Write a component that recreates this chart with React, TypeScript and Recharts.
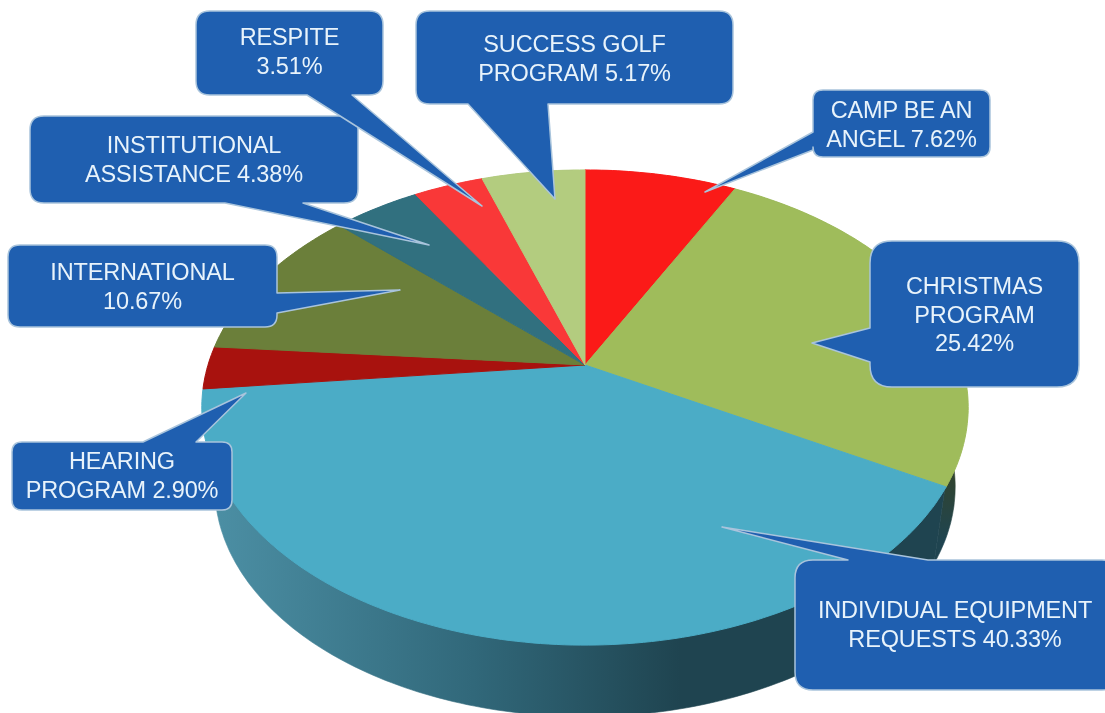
import React from "react";
import { Pie, PieChart } from "recharts";

const categories = [
  "Camp Be An Angel",
  "Christmas Program",
  "Individual Equipment Requests",
  "Hearing Program",
  "International",
  "Institutional Assistance",
  "Respite",
  "Success Golf Program",
];
const shares = [7.62, 25.42, 40.33, 2.9, 10.67, 4.38, 3.51, 5.17];
const topColors = ["#fb1a18", "#9fbc5b", "#4bacc6", "#a8120e", "#6b7f3a", "#31707f", "#f93838", "#b3cc7f"];
const wallColors = ["#8c0f0d", "url(#wallGreen)", "url(#wallBlue)", "#5e0b08", "#3c4820", "#1c3f48", "#8c2020", "#65733f"];
const labelLines = [
  ["CAMP BE AN", "ANGEL 7.62%"],
  ["CHRISTMAS", "PROGRAM", "25.42%"],
  ["INDIVIDUAL EQUIPMENT", "REQUESTS 40.33%"],
  ["HEARING", "PROGRAM 2.90%"],
  ["INTERNATIONAL", "10.67%"],
  ["INSTITUTIONAL", "ASSISTANCE 4.38%"],
  ["RESPITE", "3.51%"],
  ["SUCCESS GOLF", "PROGRAM 5.17%"],
];

const tableData = categories.map((name, i) => ({ name, value: shares[i], fill: topColors[i] }));
const wallData = categories.map((name, i) => ({ name, value: shares[i], fill: wallColors[i] }));

// the perspective of the disc: a circle seen through a homography
const SQUASH = 0.61;
const TILT = 0.179;
const RIM_DROP = 81;
const RIM_SCALE = 0.966;

function project(cx: number, cy: number, r: number, deg: number) {
  const rad = (deg * Math.PI) / 180;
  const ux = Math.cos(rad);
  const uy = -Math.sin(rad);
  const w = 1 - TILT * uy;
  return [cx + (r * ux) / w, cy + (r * SQUASH * uy) / w];
}

function arcPoints(cx: number, cy: number, r: number, from: number, to: number) {
  const n = Math.max(2, Math.ceil(Math.abs(to - from)));
  const pts = [];
  for (let i = 0; i <= n; i++) pts.push(project(cx, cy, r, from + ((to - from) * i) / n));
  return pts;
}

const toPath = (pts: number[][]) =>
  "M" + pts.map((p) => `${p[0].toFixed(1)} ${p[1].toFixed(1)}`).join("L") + "Z";

function TopSlice(props: any) {
  const { cx, cy, outerRadius, startAngle, endAngle, fill } = props;
  const pts = [[cx, cy], ...arcPoints(cx, cy, outerRadius, startAngle, endAngle)];
  return <path d={toPath(pts)} fill={fill} stroke={fill} strokeWidth={1} />;
}

function WallSlice(props: any) {
  const { cx, cy, outerRadius, startAngle, endAngle, fill } = props;
  const upper = arcPoints(cx, cy, outerRadius - 1, startAngle, endAngle);
  const lower = arcPoints(cx, cy + RIM_DROP, outerRadius * RIM_SCALE, endAngle, startAngle);
  return <path d={toPath([...upper, ...lower])} fill={fill} stroke={fill} strokeWidth={0.6} />;
}

// layout of the callouts, same order as the categories
const calloutBoxes = [
  { x: 813, y: 90, w: 177, h: 67, r: 10, side: "left", a: 132, b: 150, tip: [705, 192], text: 110 },
  { x: 870, y: 241, w: 209, h: 146, r: 22, side: "left", a: 328, b: 362, tip: [812, 343], text: 286 },
  { x: 795, y: 560, w: 325, h: 130, r: 18, side: "top", a: 848, b: 928, tip: [722, 527], text: 610 },
  { x: 12, y: 442, w: 220, h: 68, r: 10, side: "top", a: 143, b: 196, tip: [246, 393], text: 461 },
  { x: 8, y: 245, w: 269, h: 82, r: 12, side: "right", a: 293, b: 313, tip: [400, 290], text: 272 },
  { x: 30, y: 116, w: 328, h: 87, r: 14, side: "bottom", a: 225, b: 303, tip: [429, 245], text: 145 },
  { x: 196, y: 11, w: 187, h: 84, r: 14, side: "bottom", a: 307, b: 352, tip: [482, 206], text: 37 },
  { x: 416, y: 11, w: 317, h: 93, r: 14, side: "bottom", a: 468, b: 548, tip: [555, 199], text: 44 },
];

function calloutPath(c: any) {
  const { x, y, w, h, r, side, a, b, tip } = c;
  const R = x + w;
  const B = y + h;
  const t = `${tip[0]} ${tip[1]}`;
  const top = side === "top" ? `L${a} ${y}L${t}L${b} ${y}` : "";
  const right = side === "right" ? `L${R} ${a}L${t}L${R} ${b}` : "";
  const bottom = side === "bottom" ? `L${b} ${B}L${t}L${a} ${B}` : "";
  const left = side === "left" ? `L${x} ${b}L${t}L${x} ${a}` : "";
  return (
    `M${x + r} ${y}${top}L${R - r} ${y}Q${R} ${y} ${R} ${y + r}${right}` +
    `L${R} ${B - r}Q${R} ${B} ${R - r} ${B}${bottom}` +
    `L${x + r} ${B}Q${x} ${B} ${x} ${B - r}${left}` +
    `L${x} ${y + r}Q${x} ${y} ${x + r} ${y}Z`
  );
}

function Callout({ index }: { index: number }) {
  const c = calloutBoxes[index];
  const mid = index === 2 ? 955 : c.x + c.w / 2;
  return (
    <g>
      <path d={calloutPath(c)} fill="#1f5fb0" stroke="#a9c4dc" strokeWidth={1.5} strokeLinejoin="round" />
      {labelLines[index].map((line, i) => (
        <text
          key={line}
          x={mid}
          y={c.text + i * 28.5}
          textAnchor="middle"
          dominantBaseline="central"
          fontFamily="'Liberation Sans', Arial, sans-serif"
          fontSize={23.5}
          letterSpacing={-0.15}
          fill="#e8f3fb"
        >
          {line}
        </text>
      ))}
    </g>
  );
}

export default function App() {
  return (
    <div
      style={{
        position: "absolute",
        left: 0,
        top: 0,
        width: 1105,
        height: 713,
        background: "#fff",
        overflow: "hidden",
        filter: "blur(0.5px)",
      }}
    >
      <PieChart width={1105} height={713} margin={{ top: 0, right: 0, bottom: 0, left: 0 }}>
        <defs>
          <linearGradient id="wallBlue" gradientUnits="userSpaceOnUse" x1={220} y1={0} x2={680} y2={0}>
            <stop offset="0%" stopColor="#4b8ea3" />
            <stop offset="55%" stopColor="#31687a" />
            <stop offset="100%" stopColor="#1f4450" />
          </linearGradient>
          <linearGradient id="wallGreen" gradientUnits="userSpaceOnUse" x1={0} y1={465} x2={0} y2={540}>
            <stop offset="0%" stopColor="#34442a" />
            <stop offset="100%" stopColor="#1f4450" />
          </linearGradient>
        </defs>
        <Pie
          data={wallData}
          dataKey="value"
          nameKey="name"
          cx={585}
          cy={365}
          outerRadius={377}
          startAngle={90}
          endAngle={-270}
          paddingAngle={0}
          stroke="none"
          shape={WallSlice}
          isAnimationActive={false}
        />
        <Pie
          data={tableData}
          dataKey="value"
          nameKey="name"
          cx={585}
          cy={365}
          outerRadius={377}
          startAngle={90}
          endAngle={-270}
          paddingAngle={0}
          stroke="none"
          shape={TopSlice}
          isAnimationActive={false}
        />
      </PieChart>
      {/* callouts sit above the pie, the chart paints its series over its own children */}
      <svg width={1105} height={713} style={{ position: "absolute", left: 0, top: 0 }}>
        {categories.map((name, i) => (
          <Callout key={name} index={i} />
        ))}
      </svg>
    </div>
  );
}
